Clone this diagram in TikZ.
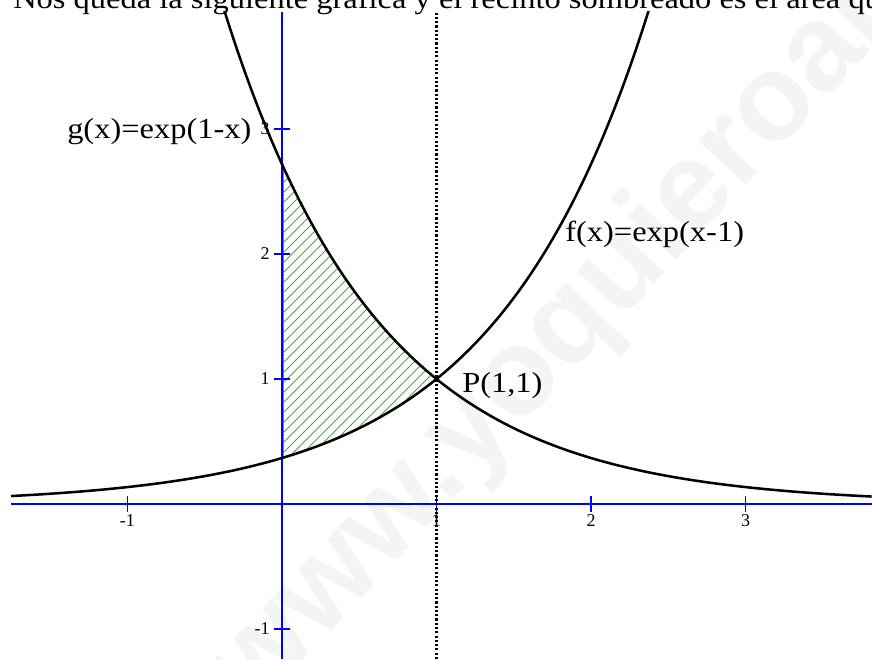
\documentclass[tikz,border=0pt]{standalone}
\usepackage{fontspec}
\setmainfont{Liberation Serif}
\newfontfamily\wmfont{Liberation Sans}
\usepackage{graphicx}
\definecolor{axisblue}{RGB}{0,0,255}
\definecolor{hatchgreen}{RGB}{60,175,60}
\definecolor{wmgray}{RGB}{244,244,244}
\begin{document}
\begin{tikzpicture}[x=115.875pt, y=93.75pt,
  axisline/.style={axisblue, line width=1.8pt},
  tickline/.style={axisblue, line width=0.9pt},
  curve/.style={black, line width=1.9pt, line join=round},
  guide/.style={black, line width=1.7pt, dash pattern=on 1.6pt off 1.6pt},
  hatchline/.style={hatchgreen, line width=0.7pt},
  ticklabel/.style={inner sep=0pt, font=\fontsize{13.5}{13.5}\selectfont},
  biglabel/.style={inner sep=0pt, anchor=base west, font=\fontsize{21.75}{24}\selectfont},
  ]
\useasboundingbox (-1.8252,-1.24) rectangle (3.8188,4.032);
% watermark
\node[rotate=47, anchor=base west, inner sep=0pt, text=wmgray,
      font=\wmfont\bfseries\fontsize{92}{92}\selectfont] (wm) at (-0.175,-1.664) {www.yoquieroaprobar.es};
% plot area
\begin{scope}
\clip (-1.754,-1.24) rectangle (3.8188,3.936);
% hatched region
\begin{scope}
\clip plot[domain=0:1,samples=40] (\x,{exp(\x-1)}) -- plot[domain=1:0,samples=40] (\x,{exp(1-\x)}) -- cycle;
\foreach \k in {-270,-262.5,...,100} \draw[hatchline] (0,0) ++(\k pt,0pt) -- ++(300pt,300pt);
\end{scope}
\draw[hatchgreen, line width=0.8pt] ([xshift=1.2pt]0,{exp(-1)}) -- ([xshift=1.2pt]0,{exp(1)});
% axes
\coordinate (xl) at (-1.754,0);
\coordinate (xr) at (3.8188,0);
\coordinate (yb) at (0,-1.24);
\coordinate (yt) at (0,3.936);
\draw[axisline] (xl) -- (xr);
\draw[axisline] (yb) -- (yt);
\foreach \t in {-1,1,2,3} {
  \draw[tickline] (\t,0) ++(0,-6pt) -- ++(0,12pt);
  \draw[tickline] (0,\t) ++(-6pt,0) -- ++(12pt,0);
}
% dotted line x = 1
\coordinate (db) at (1,-1.24);
\coordinate (dt) at (1,3.936);
\draw[guide] (db) -- (dt);
% curves
\draw[curve] plot[domain=-1.754:2.38, samples=200] (\x,{exp(\x-1)});
\draw[curve] plot[domain=-0.38:3.8188, samples=200] (\x,{exp(1-\x)});
\end{scope}
% tick labels
\node[ticklabel, anchor=north] (xm1) at ([yshift=-8pt]-1,0) {-1};
\node[ticklabel, anchor=north] (x1) at ([yshift=-8pt]1,0) {1};
\node[ticklabel, anchor=north] (x2) at ([yshift=-8pt]2,0) {2};
\node[ticklabel, anchor=north] (x3) at ([yshift=-8pt]3,0) {3};
\node[ticklabel, anchor=east] (ym1) at ([xshift=-9pt]0,-1) {-1};
\node[ticklabel, anchor=east] (y1) at ([xshift=-9pt]0,1) {1};
\node[ticklabel, anchor=east] (y2) at ([xshift=-9pt]0,2) {2};
\node[ticklabel, anchor=east] (y3) at ([xshift=-9pt]0,3) {3};
% big labels
\node[biglabel] (top) at (-1.741,3.96) {\scalebox{1.12}[1]{Nos queda la siguiente gráfica y el recinto sombreado es el área que}};
\node[biglabel] (glab) at (-1.3916,2.92) {\scalebox{1.12}[1]{g(x)=exp(1-x)}};
\node[biglabel] (flab) at (1.8317,2.096) {\scalebox{1.12}[1]{f(x)=exp(x-1)}};
\node[biglabel] (plab) at (1.165,0.888) {\scalebox{1.12}[1]{P(1,1)}};
\end{tikzpicture}
\end{document}
